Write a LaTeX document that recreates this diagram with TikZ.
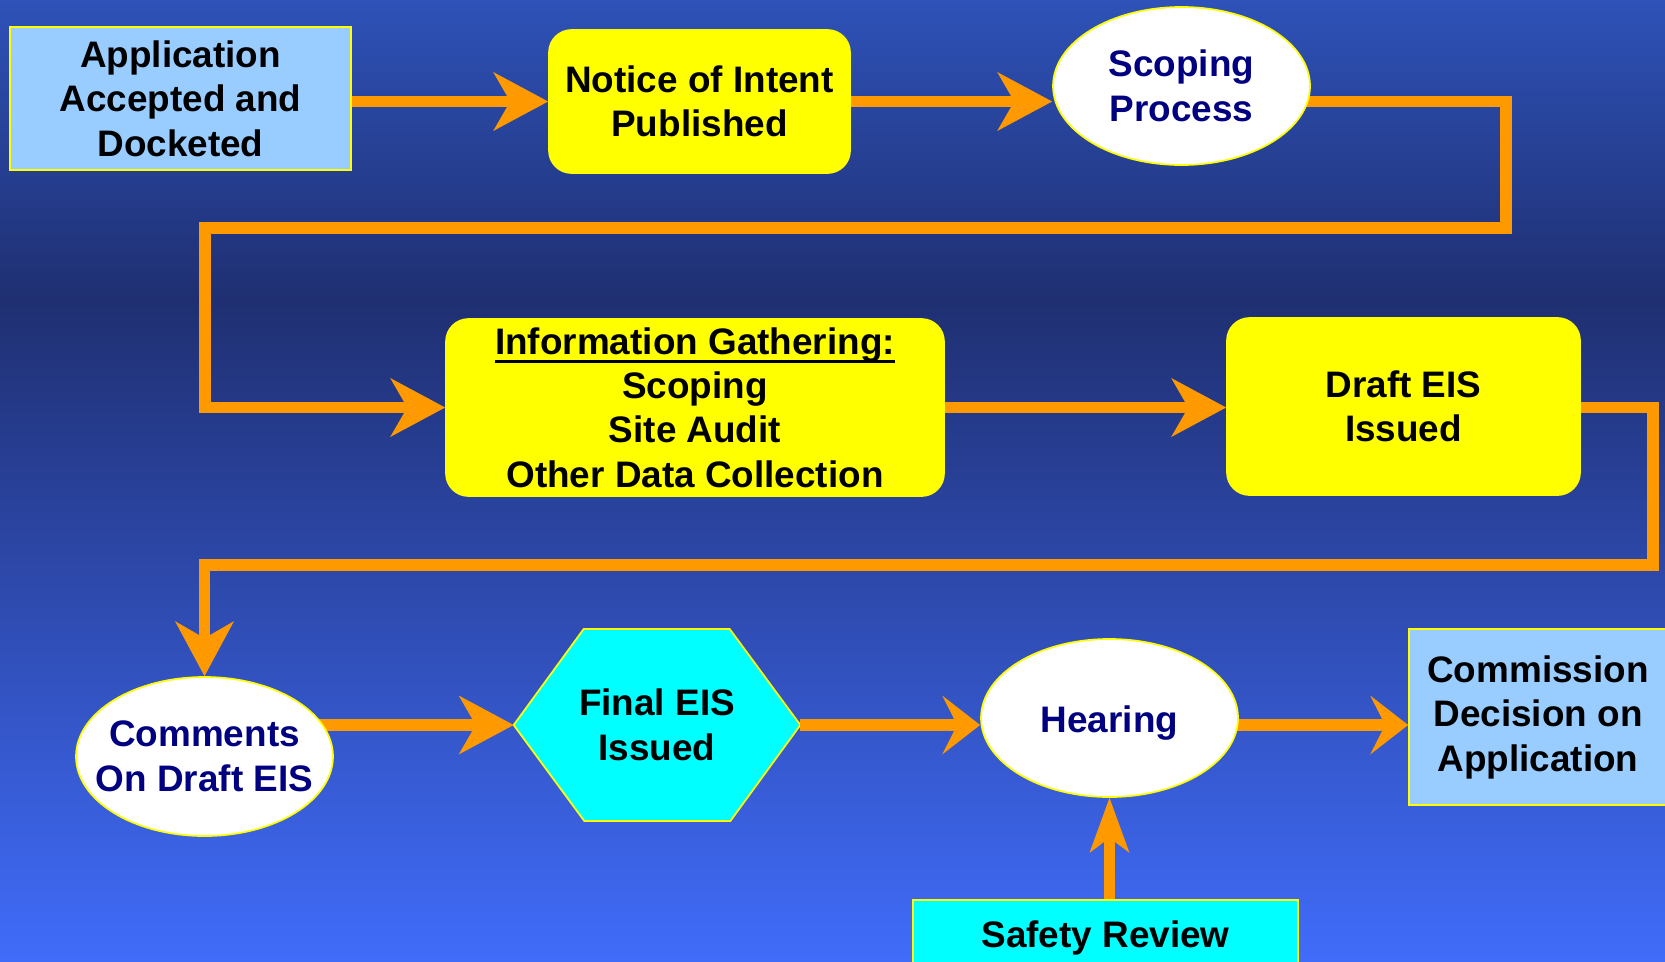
\documentclass[tikz,border=0pt]{standalone}
\usepackage{fontspec}
\setmainfont{Liberation Sans}
\usetikzlibrary{arrows.meta, shapes.geometric}

\definecolor{bgtop}{RGB}{46,82,184}
\definecolor{bgmid}{RGB}{31,47,113}
\definecolor{bgbot}{RGB}{64,108,250}
\definecolor{floworange}{RGB}{255,153,0}
\definecolor{paleblue}{RGB}{153,204,255}
\definecolor{navytext}{RGB}{0,0,128}
\definecolor{boxyellow}{RGB}{255,255,0}
\definecolor{boxcyan}{RGB}{0,255,255}

\newcommand{\thickul}[1]{\setbox0\hbox{#1}\rlap{\rule[-5.3pt]{\wd0}{2pt}}\box0}

\pgfdeclarelayer{back}
\pgfdeclarelayer{wires}
\pgfsetlayers{back,wires,main}

\begin{document}
\begin{tikzpicture}[x=0.02cm, y=-0.02cm,
    every node/.style={font=\fontsize{21}{25.3}\selectfont\bfseries, align=center, inner sep=0pt},
    squarebox/.style={draw=boxyellow, line width=1pt, fill=paleblue},
    roundbox/.style={draw=boxyellow, line width=1pt, fill=boxyellow, rounded corners=0.45cm},
    cyanbox/.style={draw=boxyellow, line width=1pt, fill=boxcyan},
    oval/.style={ellipse, draw=boxyellow, line width=1pt, fill=white, minimum width=5.14cm, minimum height=3.16cm},
    ovaltext/.style={text=navytext},
    flow/.style={draw=floworange, line width=0.23cm, -{Stealth[length=1.1cm, width=1.18cm, inset=0.34cm, line width=0pt, fill=floworange]}},
    flowshort/.style={flow, -{Stealth[length=0.76cm, width=1.18cm, inset=0.3cm, line width=0pt, fill=floworange]}},
    flowup/.style={flow, -{Stealth[length=1.1cm, width=0.8cm, inset=0.3cm, line width=0pt, fill=floworange]}}
]
\useasboundingbox (0,0) rectangle (1665,961);
\begin{pgfonlayer}{back}
\shade[top color=bgtop, bottom color=bgmid] (0,0) rectangle (1665,300);
\shade[top color=bgmid, bottom color=bgbot] (0,299) rectangle (1665,961);
\end{pgfonlayer}

% top row
\node[squarebox, minimum width=6.82cm, minimum height=2.86cm] (app) at (180.5,98.5) {Application\\Accepted and\\Docketed};
\node[roundbox, minimum width=6.02cm, minimum height=2.86cm] (notice) at (699.5,101.5) {Notice of Intent\\Published};
\node[oval, label={[ovaltext]center:{Scoping\\Process}}] (scope) at (1181.5,86) {};

% middle row
\node[roundbox, minimum width=9.96cm, minimum height=3.54cm] (info) at (695,407.5) {\thickul{Information Gathering:}\\Scoping\\Site Audit\\Other Data Collection};
\node[roundbox, minimum width=7.06cm, minimum height=3.54cm] (draft) at (1403.5,406.5) {Draft EIS\\Issued};

% bottom row
\node[oval, minimum height=3.18cm, label={[ovaltext]center:{Comments\\On Draft EIS}}] (comments) at (204.5,756.5) {};
\node[minimum width=5.72cm, minimum height=3.84cm] (final) at (657,725) {Final EIS\\Issued};
\node[oval, label={[ovaltext, yshift=-3pt]center:{Hearing}}] (hearing) at (1109.5,718) {};
\node[squarebox, minimum width=5.16cm, minimum height=3.52cm] (commission) at (1538,717) {Commission\\Decision on\\Application};
\node[cyanbox, minimum width=7.7cm, minimum height=1.5cm] (safety) at (1105.5,937.5) {Safety Review};

\coordinate (turnA) at (1506,228);
\coordinate (turnB) at (205,228);
\coordinate (turnC) at (1653,565);

\begin{pgfonlayer}{wires}
\filldraw[cyanbox] (final.west) -- ++(70,-96) -- ++(146,0) -- (final.east) -- ++(-70,96) -- ++(-146,0) -- cycle;
\draw[flow] (app.east |- notice.west) -- (notice.west);
\draw[flow] (notice.east) -- (scope.west |- notice.east);
\draw[flow] (scope.center |- notice.east) -| (turnA) -- (turnB) |- (info.west);
\draw[flow] (info.east) -- (draft.west |- info.east);
\draw[flow] (draft.center |- info.east) -| (turnC) -- (comments.north |- turnC) -- (comments.north);
\draw[flow] (comments.center |- final.west) -- (final.west);
\draw[flowshort] (final.east) -- (hearing.west |- final.east);
\draw[flowshort] (hearing.center |- final.east) -- (commission.west |- final.east);
\draw[flowup] (hearing.south |- safety.north) -- (hearing.south);
\end{pgfonlayer}
\end{tikzpicture}
\end{document}
